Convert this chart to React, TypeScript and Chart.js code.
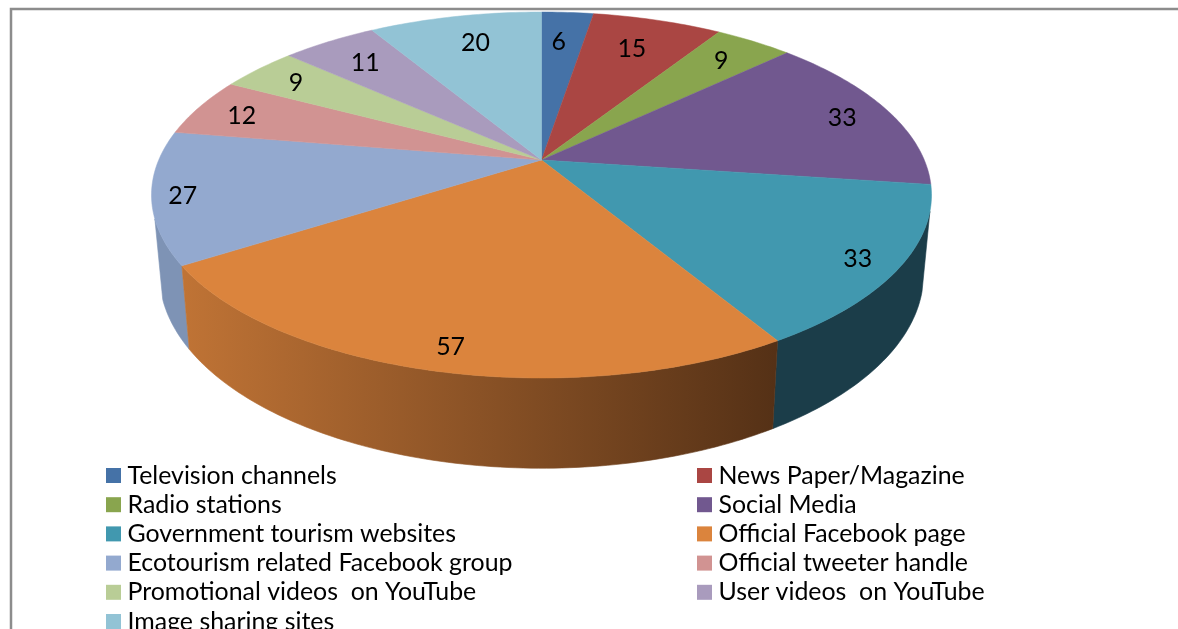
import React, { useEffect, useRef } from "react";
import { Chart, registerables } from "chart.js";

Chart.register(...registerables);

const categories = [
  "Television channels",
  "News Paper/Magazine",
  "Radio stations",
  "Social Media",
  "Government tourism websites",
  "Official Facebook page",
  "Ecotourism related Facebook group",
  "Official tweeter handle",
  "Promotional videos  on YouTube",
  "User videos  on YouTube",
  "Image sharing sites",
];
const values = [6, 15, 9, 33, 33, 57, 27, 12, 9, 11, 20];
const colors = [
  "#4572a7", "#aa4643", "#89a54e", "#71588f", "#4198af", "#db843d",
  "#93a9cf", "#d19392", "#b9cd96", "#a99bbd", "#92c3d5",
];

const FONT = "Lato, 'Open Sans', sans-serif";
const view = { cx: 541.5, cy: 160, A: 382.8, B: 176.3, k: 0.1913, A2: 375, cy2: 237, B2: 187, wallFrom: 0.28, wallTo: Math.PI - 0.32 };

const top = (a: number, r = 1) => {
  const u = r * Math.cos(a), v = r * Math.sin(a), w = 1 - view.k * v;
  return { x: view.cx + (view.A * u) / w, y: view.cy + (view.B * v) / w };
};
const bottom = (a: number) => {
  const u = Math.cos(a), v = Math.sin(a), w = 1 - view.k * v;
  return { x: view.cx + (view.A2 * u) / w, y: view.cy2 + (view.B2 * v) / w };
};

const sideFill = (ctx: CanvasRenderingContext2D, i: number) => {
  if (i === 4) return "#1b3d49";
  if (i === 6) return "#7e93b5";
  const g = ctx.createLinearGradient(185, 0, 775, 0);
  g.addColorStop(0, "#bf7335");
  g.addColorStop(0.5, "#8a5226");
  g.addColorStop(1, "#553116");
  return g;
};

const pie3d = {
  id: "pie3d",
  beforeDatasetsDraw(chart: any) {
    const ctx: CanvasRenderingContext2D = chart.ctx;
    const arcs = chart.getDatasetMeta(0).data;
    const bg = chart.data.datasets[0].backgroundColor;
    const labelRadii = [0.785, 0.786, 0.832, 0.864, 0.906, 0.896, 0.923, 0.864, 0.852, 0.819, 0.807];
    const labelShiftX = [-4, -4, -1, 1, -4, 3, 0, -2, -1, 2, 6];

    ctx.save();
    ctx.strokeStyle = "#8c8c8c";
    ctx.lineWidth = 2.5;
    ctx.beginPath();
    ctx.moveTo(11, 629);
    ctx.lineTo(11, 9);
    ctx.lineTo(1178, 9);
    ctx.stroke();

    for (const i of [6, 4, 5]) {
      const from = Math.max(arcs[i].startAngle, view.wallFrom);
      const to = Math.min(arcs[i].endAngle, view.wallTo);
      const n = Math.max(2, Math.ceil((to - from) * 60));
      ctx.fillStyle = sideFill(ctx, i);
      ctx.strokeStyle = ctx.fillStyle;
      ctx.lineWidth = 0.6;
      ctx.beginPath();
      for (let s = 0; s <= n; s++) {
        const p = top(from + ((to - from) * s) / n);
        s === 0 ? ctx.moveTo(p.x, p.y) : ctx.lineTo(p.x, p.y);
      }
      for (let s = n; s >= 0; s--) {
        const p = bottom(from + ((to - from) * s) / n);
        ctx.lineTo(p.x, p.y);
      }
      ctx.closePath();
      ctx.fill();
      ctx.stroke();
    }

    arcs.forEach((arc: any, i: number) => {
      const { startAngle, endAngle } = arc;
      const n = Math.max(2, Math.ceil((endAngle - startAngle) * 60));
      ctx.fillStyle = bg[i];
      ctx.strokeStyle = bg[i];
      ctx.lineWidth = 0.5;
      ctx.beginPath();
      ctx.moveTo(view.cx, view.cy);
      for (let s = 0; s <= n; s++) {
        const p = top(startAngle + ((endAngle - startAngle) * s) / n);
        ctx.lineTo(p.x, p.y);
      }
      ctx.closePath();
      ctx.fill();
      ctx.stroke();
    });

    ctx.fillStyle = "#000000";
    ctx.font = `24.9px ${FONT}`;
    ctx.textAlign = "center";
    ctx.textBaseline = "middle";
    arcs.forEach((arc: any, i: number) => {
      const p = top((arc.startAngle + arc.endAngle) / 2, labelRadii[i]);
      ctx.fillText(String(chart.data.datasets[0].data[i]), p.x + labelShiftX[i], p.y + 2);
    });

    ctx.textAlign = "left";
    chart.data.labels.forEach((label: string, i: number) => {
      const col = i % 2, row = Math.floor(i / 2);
      const sx = col === 0 ? 106 : 697;
      const sy = 468 + row * 29.2;
      ctx.fillStyle = bg[i];
      ctx.fillRect(sx, sy, 15, 15);
      ctx.fillStyle = "#000000";
      ctx.fillText(label, sx + 21.5, sy + 7.5);
    });
    ctx.restore();
    return false;
  },
};

export default function App() {
  const ref = useRef<HTMLCanvasElement>(null);
  useEffect(() => {
    document.body.style.margin = "0";
    document.body.style.background = "#ffffff";
    const chart = new Chart(ref.current as HTMLCanvasElement, {
      type: "pie",
      data: {
        labels: categories,
        datasets: [{ data: values, backgroundColor: colors, borderWidth: 0 }],
      },
      options: {
        responsive: false,
        animation: false,
        plugins: { legend: { display: false }, tooltip: { enabled: false } },
      },
      plugins: [pie3d],
    } as any);
    return () => chart.destroy();
  }, []);
  return <canvas ref={ref} width={1178} height={629} style={{ display: "block" }} />;
}
